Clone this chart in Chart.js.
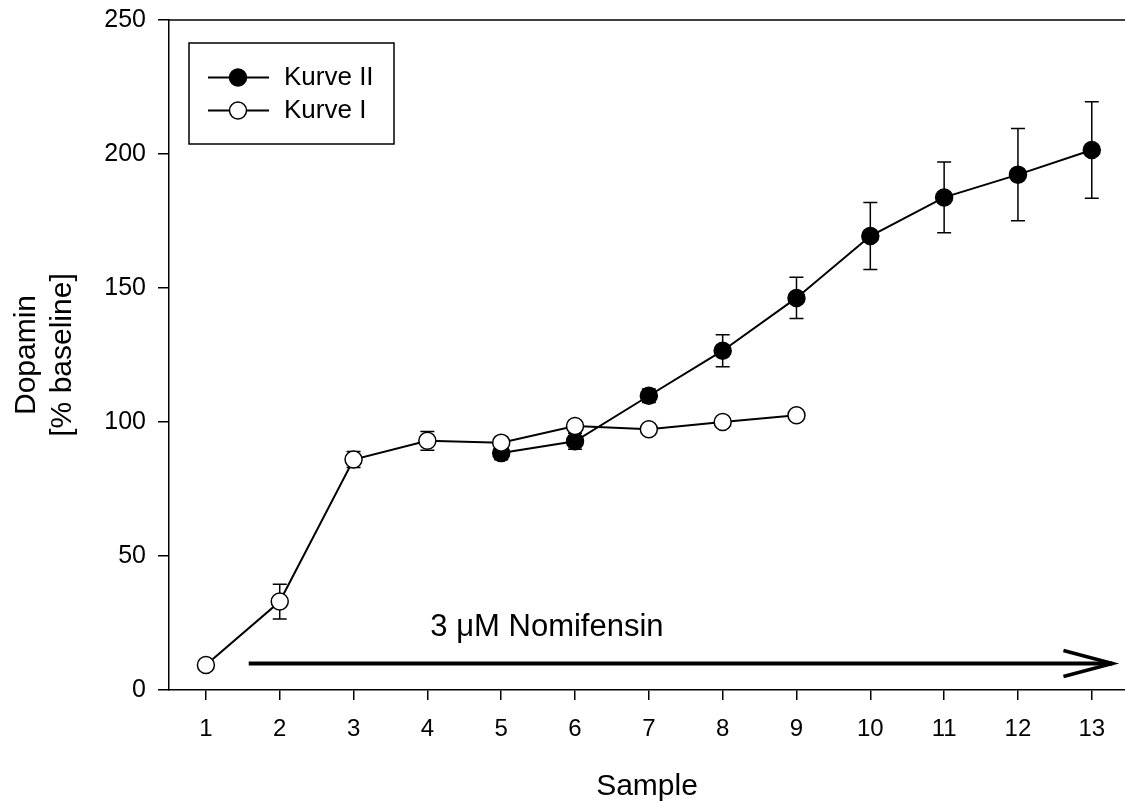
<!DOCTYPE html>
<html>
<head>
<meta charset="utf-8">
<script src="https://cdn.jsdelivr.net/npm/chart.js@4.4.1/dist/chart.umd.min.js"></script>
<style>
  html, body { margin: 0; padding: 0; background: #fff; }
  canvas { display: block; }
</style>
</head>
<body>
<canvas id="myChart" width="1125" height="801"></canvas>
<script>
var samples = [1, 2, 3, 4, 5, 6, 7, 8, 9, 10, 11, 12, 13];
var yTicks = [0, 50, 100, 150, 200, 250];

// Kurve I (open circles), samples 1-9
var kurve1 = [9.3, 33, 86, 93, 92.3, 98.5, 97.3, 100, 102.5];
var kurve1Err = [0, 6.5, 3, 3.5, 2, 2, 0, 0, 0];

// Kurve II (filled circles), samples 5-13
var kurve2X = [5, 6, 7, 8, 9, 10, 11, 12, 13];
var kurve2 = [88.4, 92.8, 109.8, 126.6, 146.3, 169.4, 183.8, 192.3, 201.5];
var kurve2Err = [2.5, 3, 2.5, 6, 7.7, 12.5, 13.2, 17.2, 18];

// arrow annotation (data units)
var arrowFrom = 1.58, arrowTo = 13.28, arrowY = 9.9;
var arrowLabel = "3 μM Nomifensin";
var labelX = 5.62, labelY = 23.5;

var FONT = "'Liberation Sans', Arial, sans-serif";

function pts(xs, ys) {
  return ys.map(function (v, i) { return { x: xs[i], y: v }; });
}

var errorBars = {
  id: "errorBars",
  beforeDatasetsDraw: function (chart) {
    var ctx = chart.ctx, xs = chart.scales.x, ys = chart.scales.y;
    ctx.save();
    ctx.strokeStyle = "#000";
    ctx.lineWidth = 1.5;
    chart.data.datasets.forEach(function (ds) {
      ds.data.forEach(function (p, i) {
        var e = ds.errors[i];
        if (!e) return;
        var px = xs.getPixelForValue(p.x);
        var top = ys.getPixelForValue(p.y + e);
        var bot = ys.getPixelForValue(p.y - e);
        ctx.beginPath();
        ctx.moveTo(px, top); ctx.lineTo(px, bot);
        ctx.moveTo(px - 7, top); ctx.lineTo(px + 7, top);
        ctx.moveTo(px - 7, bot); ctx.lineTo(px + 7, bot);
        ctx.stroke();
      });
    });
    ctx.restore();
  }
};

var extras = {
  id: "extras",
  afterDraw: function (chart) {
    var ctx = chart.ctx, xs = chart.scales.x, ys = chart.scales.y, a = chart.chartArea;
    ctx.save();
    // top frame line
    ctx.strokeStyle = "#000";
    ctx.lineWidth = 1.5;
    ctx.beginPath();
    ctx.moveTo(a.left, a.top); ctx.lineTo(a.right, a.top);
    ctx.stroke();

    // arrow
    var x1 = xs.getPixelForValue(arrowFrom), x2 = xs.getPixelForValue(arrowTo);
    var y = ys.getPixelForValue(arrowY);
    ctx.lineWidth = 4;
    ctx.beginPath();
    ctx.moveTo(x1, y); ctx.lineTo(x2, y);
    ctx.stroke();
    ctx.lineWidth = 3.5;
    ctx.beginPath();
    ctx.moveTo(x2 - 49, y - 13); ctx.lineTo(x2, y); ctx.lineTo(x2 - 49, y + 13);
    ctx.stroke();

    ctx.fillStyle = "#000";
    ctx.font = "31px " + FONT;
    ctx.textAlign = "center";
    ctx.textBaseline = "middle";
    ctx.fillText(arrowLabel, xs.getPixelForValue(labelX), ys.getPixelForValue(labelY));

    // legend box
    var lx = a.left + 20, ly = a.top + 23;
    ctx.lineWidth = 1.5;
    ctx.strokeRect(lx, ly, 205, 101);
    ctx.font = "26px " + FONT;
    ctx.textAlign = "left";
    chart.data.datasets.forEach(function (ds, i) {
      var ry = ly + 34.5 + i * 33;
      ctx.lineWidth = 2;
      ctx.beginPath();
      ctx.moveTo(lx + 19, ry); ctx.lineTo(lx + 80, ry);
      ctx.stroke();
      ctx.beginPath();
      ctx.arc(lx + 49, ry, 8.5, 0, Math.PI * 2);
      ctx.fillStyle = ds.pointBackgroundColor;
      ctx.fill();
      ctx.lineWidth = 1.5;
      ctx.stroke();
      ctx.fillStyle = "#000";
      ctx.fillText(ds.label, lx + 95, ry);
    });
    ctx.restore();
  }
};

var ctx = document.getElementById("myChart").getContext("2d");

var chart = new Chart(ctx, {
  type: "line",
  data: {
    datasets: [
      {
        label: "Kurve II",
        data: pts(kurve2X, kurve2),
        errors: kurve2Err,
        borderColor: "#000",
        borderWidth: 2,
        pointRadius: 8.5,
        pointBackgroundColor: "#000",
        pointBorderColor: "#000",
        pointBorderWidth: 1.5,
        order: 2,
      },
      {
        label: "Kurve I",
        data: pts(samples, kurve1),
        errors: kurve1Err,
        borderColor: "#000",
        borderWidth: 2,
        pointRadius: 8.5,
        pointBackgroundColor: "#fff",
        pointBorderColor: "#000",
        pointBorderWidth: 1.5,
        order: 1,
      },
    ],
  },
  options: {
    responsive: false,
    animation: false,
    devicePixelRatio: 1,
    layout: { autoPadding: false, padding: { top: 20, right: 0, left: 0, bottom: 0 } },
    plugins: { legend: { display: false }, tooltip: { enabled: false } },
    scales: {
      x: {
        type: "linear",
        min: 0.5,
        max: 13.45,
        afterBuildTicks: function (s) {
          s.ticks = samples.map(function (v) { return { value: v }; });
        },
        afterFit: function (s) {
          s.height = 111;
          s.paddingRight = 0;
          s.paddingLeft = 0;
        },
        ticks: { color: "#000", font: { family: FONT, size: 24 }, padding: 15, maxRotation: 0 },
        grid: { drawOnChartArea: false, tickLength: 10, color: "#000", lineWidth: 1.5 },
        border: { color: "#000", width: 1.5 },
        title: {
          display: true, text: "Sample", color: "#000",
          font: { family: FONT, size: 30 }, padding: { top: 0, bottom: -4 },
        },
      },
      y: {
        min: 0,
        max: 250,
        afterBuildTicks: function (s) {
          s.ticks = yTicks.map(function (v) { return { value: v }; });
        },
        afterFit: function (s) {
          s.width = 169;
          s.paddingTop = 0;
          s.paddingBottom = 0;
        },
        ticks: { color: "#000", font: { family: FONT, size: 25 }, padding: 12 },
        grid: { drawOnChartArea: false, tickLength: 11, color: "#000", lineWidth: 1.5 },
        border: { color: "#000", width: 1.5 },
        title: {
          display: true, text: ["Dopamin", "[% baseline]"], color: "#000",
          font: { family: FONT, size: 30, lineHeight: 1.2 }, padding: { top: 9, bottom: 0 },
        },
      },
    },
  },
  plugins: [errorBars, extras],
});
</script>
</body>
</html>
